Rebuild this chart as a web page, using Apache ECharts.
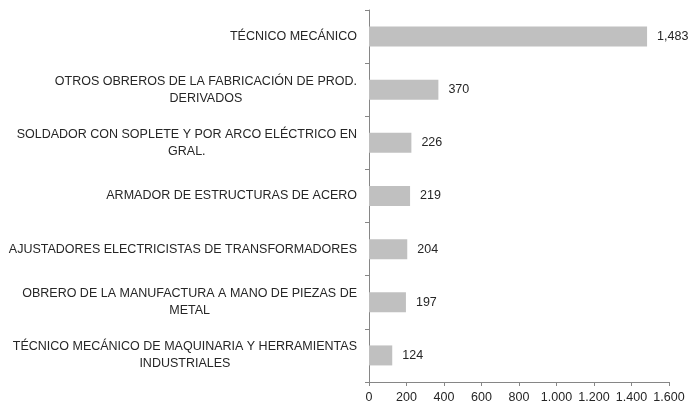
<!DOCTYPE html>
<html>
<head>
<meta charset="utf-8">
<script src="https://cdn.jsdelivr.net/npm/echarts@6/dist/echarts.min.js"></script>
<style>
  html, body { margin: 0; padding: 0; background: #fff; }
  #chart { width: 688px; height: 402px; }
</style>
</head>
<body>
<div id="chart"></div>
<script>
const categories = [
  'TÉCNICO MECÁNICO',
  'OTROS OBREROS DE LA FABRICACIÓN DE PROD.\nDERIVADOS',
  'SOLDADOR CON SOPLETE Y POR ARCO ELÉCTRICO EN\nGRAL.',
  'ARMADOR DE ESTRUCTURAS DE ACERO',
  'AJUSTADORES ELECTRICISTAS DE TRANSFORMADORES',
  'OBRERO DE LA MANUFACTURA A MANO DE PIEZAS DE\nMETAL',
  'TÉCNICO MECÁNICO DE MAQUINARIA Y HERRAMIENTAS\nINDUSTRIALES'
];
const values = [1483, 370, 226, 219, 204, 197, 124];

const fontFamily = '"Liberation Sans", Arial, sans-serif';
const fontSize = 12.5;
const textColor = '#262626';

// lines of a label are centred under each other: a spacer token after the shorter line
// pushes it left by half the difference (the label itself is right aligned)
const ctx = document.createElement('canvas').getContext('2d');
ctx.font = fontSize + 'px ' + fontFamily;
const rich = {
  t: { color: textColor, fontFamily: fontFamily, fontSize: fontSize, lineHeight: 17 }
};
const labelText = categories.map((c, i) => {
  const lines = c.split('\n');
  const widths = lines.map((s) => ctx.measureText(s).width);
  const maxW = Math.max(...widths);
  return lines.map((s, j) => {
    const pad = (maxW - widths[j]) / 2;
    if (pad < 1) return '{t|' + s + '}';
    const key = 's' + i + '_' + j;
    rich[key] = { width: pad, fontSize: fontSize, lineHeight: 17 };
    return '{t|' + s + '}{' + key + '| }';
  }).join('\n');
});

const chart = echarts.init(document.getElementById('chart'));

chart.setOption({
  animation: false,
  backgroundColor: '#fff',
  grid: { left: 369, right: 19, top: 10, bottom: 20, outerBoundsMode: 'none' },
  xAxis: {
    type: 'value',
    min: 0,
    max: 1600,
    interval: 200,
    splitLine: { show: false },
    axisLine: { show: true, lineStyle: { color: '#868686', width: 1 } },
    axisTick: { show: true, length: 4, lineStyle: { color: '#868686' } },
    axisLabel: {
      color: textColor,
      fontFamily: fontFamily,
      fontSize: fontSize,
      margin: 9,
      formatter: (v) => v.toLocaleString('de-DE')
    }
  },
  yAxis: {
    type: 'category',
    inverse: true,
    data: categories,
    axisLine: { show: true, lineStyle: { color: '#868686', width: 1 } },
    axisTick: { show: true, length: 4, lineStyle: { color: '#868686' } },
    axisLabel: {
      margin: 12,
      align: 'right',
      formatter: (v, i) => labelText[i],
      rich: rich
    }
  },
  series: [
    {
      type: 'bar',
      data: values,
      barWidth: 20,
      itemStyle: { color: '#c0c0c0' },
      label: {
        show: true,
        position: 'right',
        distance: 10,
        color: textColor,
        fontFamily: fontFamily,
        fontSize: fontSize,
        formatter: (p) => p.value.toLocaleString('en-US')
      }
    }
  ]
});
</script>
</body>
</html>
